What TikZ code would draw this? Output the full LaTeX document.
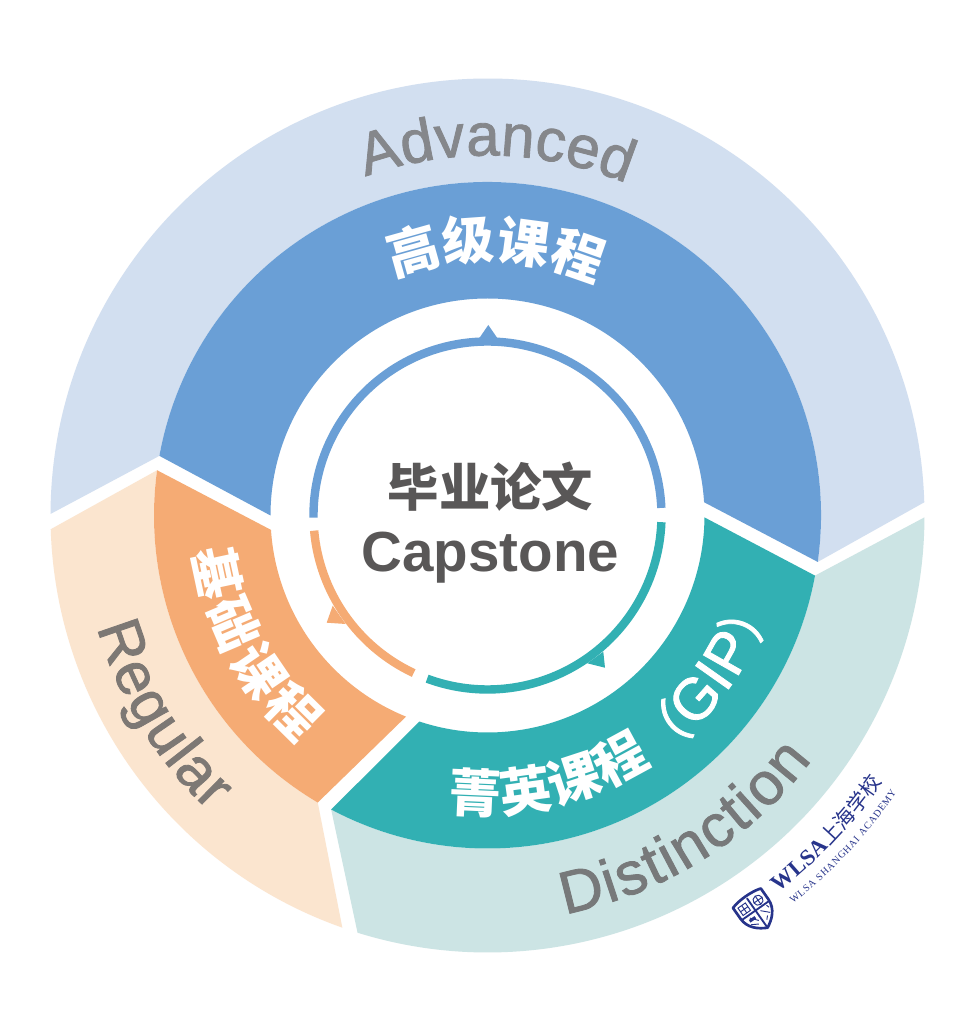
\documentclass[tikz,border=0pt]{standalone}
\usepackage{fontspec}
\usetikzlibrary{decorations.text}
\setmainfont{Liberation Sans}
\newfontfamily\cjk{Noto Sans CJK SC}
\newfontfamily\cjkm[FakeBold=1.5]{Noto Sans CJK SC}
\newfontfamily\lserif{Liberation Serif}
\newfontfamily\medf[FakeBold=1.4]{Liberation Sans}
\definecolor{lblue}{HTML}{D2DFF0}
\definecolor{mblue}{HTML}{6A9FD6}
\definecolor{lorange}{HTML}{FBE5CF}
\definecolor{morange}{HTML}{F5AB74}
\definecolor{lteal}{HTML}{CCE4E4}
\definecolor{mteal}{HTML}{32B0B3}
\definecolor{dgray}{HTML}{595757}
\definecolor{agray}{HTML}{85878B}
\definecolor{rgray}{HTML}{7D7874}
\definecolor{tgray}{HTML}{77797A}
\definecolor{navy}{HTML}{27348B}
\newcommand{\outerfont}{\medf\fontsize{45}{45}\selectfont}
\newcommand{\cnfont}{\cjk\bfseries\fontsize{39}{39}\selectfont}
\tikzset{
  ringline/.style={line width=6.3pt},
  curved/.style={decorate,decoration={text along path,text={#1},text align={fit to path}}},
  shieldline/.style={draw=navy,line width=0.7pt}
}
\begin{document}
\begin{tikzpicture}[x=0.75pt,y=0.75pt]
\useasboundingbox (-487.5,-493.5) rectangle (470.5,515.5);
\fill[white] (-487.5,-493.5) rectangle (470.5,515.5);
% outer ring
\fill[lblue] (1.73:437) arc[start angle=1.73,end angle=179.8,radius=437] -- (169.7:333.5) arc[start angle=169.7,end angle=-8,radius=333.5] -- cycle;
\fill[lorange] (181.8:437) arc[start angle=181.8,end angle=250.6,radius=437] -- (239.4:333.5) arc[start angle=239.4,end angle=172.2,radius=333.5] -- cycle;
\fill[lteal] (-0.24:437) arc[start angle=-0.24,end angle=-107.3,radius=437] -- (-118:333) arc[start angle=-118,end angle=-10.4,radius=333] -- cycle;
% middle ring
\fill[mblue] (-8:333.5) arc[start angle=-8,end angle=169.7,radius=333.5] -- (180:217) arc[start angle=180,end angle=3.5,radius=217] -- cycle;
\fill[morange] (172.2:333.5) arc[start angle=172.2,end angle=239.4,radius=333.5] -- (247.95:217) arc[start angle=247.95,end angle=183.8,radius=217] -- cycle;
\fill[mteal] (-118:333) arc[start angle=-118,end angle=-10.4,radius=333] -- (-0.5:217) arc[start angle=-0.5,end angle=-108.3,radius=217] -- cycle;
% inner arrows
\draw[ringline,mblue] (2.5:174) arc[start angle=2.5,end angle=180.7,radius=174];
\fill[mblue] (0.8,190.5) -- (-9.8,175) -- (11.5,175) -- cycle;
\draw[ringline,mteal] (-2.2:174) arc[start angle=-2.2,end angle=-110.3,radius=174];
\fill[mteal] (117.5,-152.2) -- (99.8,-147.8) -- (115.8,-136.2) -- cycle;
\draw[ringline,morange] (185:174) arc[start angle=185,end angle=244.9,radius=174];
\fill[morange] (-160.8,-107.2) -- (-154.8,-90.2) -- (-141.8,-108.5) -- cycle;
% curved labels
\path[curved={|\outerfont\color{agray}|Advanced}] (109.8:360) arc[start angle=109.8,end angle=69.8,radius=360];
\path[curved={|\outerfont\color{rgray}|Regular}] (196:406) arc[start angle=196,end angle=226.8,radius=406];
\path[curved={|\outerfont\color{tgray}|Distinction}] (-79:406) arc[start angle=-79,end angle=-37,radius=406];
\path[curved={|\cnfont\color{white}|高级课程}] (111.5:256) arc[start angle=111.5,end angle=69,radius=256];
\path[curved={|\cnfont\color{white}|基础课程}] (187:296) arc[start angle=187,end angle=230.4,radius=296];
\path[curved={|\cnfont\color{white}|菁英课程|\cjkm\fontsize{39}{39}\selectfont\color{white}|（|\medf\fontsize{44}{44}\selectfont\color{white}|GIP|\cjkm\fontsize{39}{39}\selectfont\color{white}|）}] (-97.5:297) arc[start angle=-97.5,end angle=-15.5,radius=297];
% centre
\node[text=dgray,font=\cjk\bfseries\fontsize{38.5}{38.5}\selectfont] (cn) at (3,28.5) {毕业论文};
\node[text=dgray,font=\bfseries\fontsize{42.4}{42.4}\selectfont,anchor=base] (en) at (3,-56.5) {Capstone};
% logo text
\path[curved={|\lserif\bfseries\fontsize{17}{17}\selectfont\color{navy}|WLSA|\cjk\fontsize{15.5}{15.5}\selectfont\color{navy}|上海学校}] (-52.3:476) arc[start angle=-52.3,end angle=-34,radius=476];
\path[curved={|\lserif\fontsize{7.5}{7.5}\selectfont\color{navy}|WLSA SHANGHAI ACADEMY}] (-51.8:494) arc[start angle=-51.8,end angle=-34.1,radius=494];
% logo shield
\begin{scope}[shift={(268,-395)},rotate=35]
\draw[navy,line width=2pt,fill=white,line join=round] (-17,15) .. controls (-8,18) and (8,18) .. (17,15) -- (17,2) .. controls (17,-10) and (8,-17) .. (0,-21) .. controls (-8,-17) and (-17,-10) .. (-17,2) -- cycle;
\draw[shieldline,line width=1.4pt] (0,15) -- (0,-20) (-17,0) -- (17,0);
\draw[shieldline] (-13,3) rectangle (-4,7.5) (-13,7.5) rectangle (-4,12) (-8.5,3) -- (-8.5,12);
\draw[shieldline] (8,7) circle[radius=5] (8,2) -- (8,12) (3,7) -- (13,7);
\fill[navy] (-11,-7) rectangle (-4,-4);
\draw[shieldline] (-9,-3) -- (-3,-10) (-12,-9) -- (-5,-13);
\draw[shieldline] (4,-3) -- (11,-10) (12,-2) -- (13,-5) (7,-11) -- (4,-14);
\end{scope}
\end{tikzpicture}
\end{document}
